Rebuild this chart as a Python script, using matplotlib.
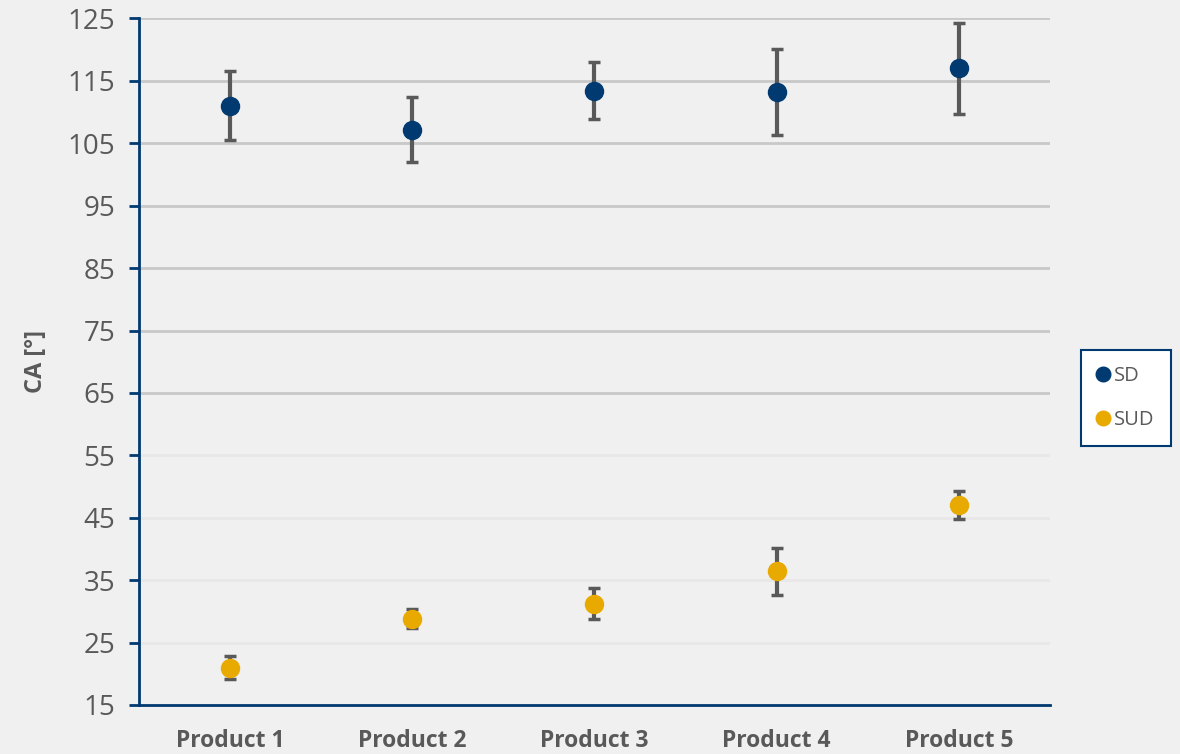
import matplotlib.pyplot as plt
import numpy as np

plt.rcParams['font.family'] = ['Open Sans', 'DejaVu Sans']

# Contact angle per product, mean and standard deviation
products = ["Product 1", "Product 2", "Product 3", "Product 4", "Product 5"]
sd_mean = [111.05, 107.2, 113.45, 113.2, 117.05]
sd_err = [5.55, 5.15, 4.55, 6.85, 7.3]
sud_mean = [21.0, 28.85, 31.25, 36.45, 47.05]
sud_err = [1.8, 1.55, 2.55, 3.75, 2.3]
y_ticks = [15, 25, 35, 45, 55, 65, 75, 85, 95, 105, 115, 125]

BG = "#f0f0f0"
AXIS_BLUE = "#003a70"
TEXT_GRAY = "#595959"

fig = plt.figure(figsize=(11.8, 7.54), dpi=100, facecolor=BG)
ax = fig.add_axes([0.1178, 0.065, 0.7720, 0.9105], facecolor=BG)

x = np.arange(len(products)) + 0.5

err_style = dict(fmt="o", ecolor=TEXT_GRAY, elinewidth=3, capsize=4.5,
                 capthick=2.5, markersize=13, zorder=3)
ax.errorbar(x, sd_mean, yerr=sd_err, color="#003a70", label="SD", **err_style)
ax.errorbar(x, sud_mean, yerr=sud_err, color="#e8aa00", label="SUD", **err_style)

ax.set_xlim(0, len(products))
ax.set_ylim(15, 125)
ax.set_yticks(y_ticks)
ax.set_xticks(x)
ax.set_xticklabels(products, fontsize=16.5, fontweight="bold", color=TEXT_GRAY)
ax.tick_params(axis="x", length=0, pad=17)
ax.tick_params(axis="y", length=7, width=2, color=AXIS_BLUE, labelsize=20,
               labelcolor=TEXT_GRAY, pad=10)

# horizontal gridlines, the lower ones are barely visible
for t in y_ticks[1:]:
    c = "#c8c8c8" if t >= 65 else "#e8e8e8"
    ax.axhline(t, color=c, linewidth=2, zorder=1)

for side in ["top", "right"]:
    ax.spines[side].set_visible(False)
for side in ["left", "bottom"]:
    ax.spines[side].set_color(AXIS_BLUE)
    ax.spines[side].set_linewidth(2)

ax.set_ylabel("CA [°]", fontsize=17, fontweight="bold", color=TEXT_GRAY, labelpad=14)

# legend: markers only, no error bars
handles = [plt.Line2D([], [], marker="o", linestyle="none", color="#003a70", markersize=10.5),
           plt.Line2D([], [], marker="o", linestyle="none", color="#e8aa00", markersize=10.5)]
leg = ax.legend(handles, ["SD", "SUD"], loc="center left", bbox_to_anchor=(1.034, 0.447),
                frameon=True, fancybox=False, fontsize=14.5, labelcolor=TEXT_GRAY,
                handlelength=0.6, handletextpad=0.25, labelspacing=1.2,
                borderpad=0.8, borderaxespad=0)
leg.get_frame().set_edgecolor(AXIS_BLUE)
leg.get_frame().set_linewidth(1.5)
leg.get_frame().set_facecolor("white")
leg.get_frame().set_alpha(1)

fig.savefig("out.png", dpi=100, facecolor=BG)
